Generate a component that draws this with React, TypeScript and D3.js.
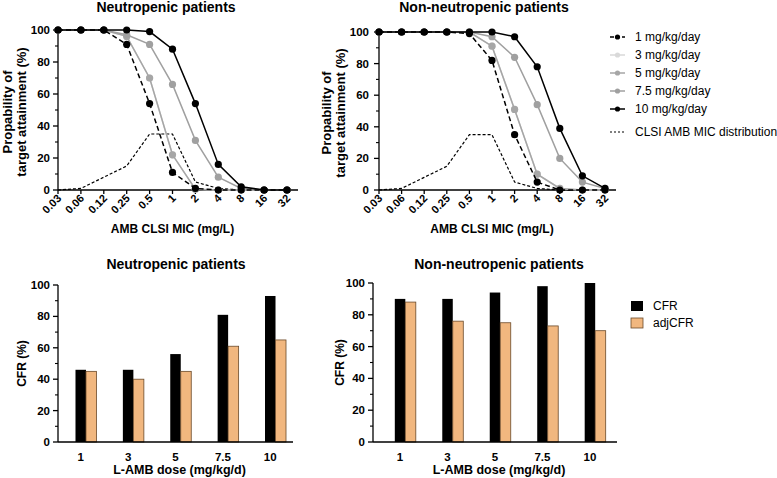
import React from "react";
import * as d3 from "d3";

const micLabels = ["0.03", "0.06", "0.12", "0.25", "0.5", "1", "2", "4", "8", "16", "32"];
const doseNames = ["1 mg/kg/day", "3 mg/kg/day", "5 mg/kg/day", "7.5 mg/kg/day", "10 mg/kg/day"];
const doseColors = ["#000000", "#d9d9d9", "#a6a6a6", "#a0a0a0", "#000000"];
const doseDashes = ["5,3", "", "", "", ""];
const drawOrder = [1, 2, 3, 0, 4];

// Neutropenic probability of target attainment (%)
const neut1 = [100, 100, 100, 91, 54, 11, 1, 0, 0, 0, 0];
const neut3 = [100, 100, 100, 96, 70, 22, 0.5, 0, 0, 0, 0];
const neut5 = [100, 100, 100, 96, 70, 22, 0.5, 0, 0, 0, 0];
const neut75 = [100, 100, 100, 97, 91, 66, 31, 8, 1, 0, 0];
const neut10 = [100, 100, 100, 100, 99, 88, 54, 16, 2, 0, 0];

// Non-neutropenic probability of target attainment (%)
const non1 = [100, 100, 100, 100, 99, 82, 35, 5, 0, 0, 0];
const non3 = [100, 100, 100, 100, 100, 91, 51, 10, 1, 0, 0];
const non5 = [100, 100, 100, 100, 100, 91, 51, 10, 1, 0, 0];
const non75 = [100, 100, 100, 100, 100, 97, 84, 54, 20, 5, 1];
const non10 = [100, 100, 100, 100, 100, 100, 97, 78, 39, 9, 1];

// CLSI AMB MIC distribution (%)
const micDistribution = [0, 1, 8, 15, 35, 35, 5, 1, 0, 0, 0];

// CFR bar charts
const barDoses = ["1", "3", "5", "7.5", "10"];
const neutCFR = [46, 46, 56, 81, 93];
const neutAdjCFR = [45, 40, 45, 61, 65];
const nonCFR = [90, 90, 94, 98, 100];
const nonAdjCFR = [88, 76, 75, 73, 70];

const yMajor = [0, 20, 40, 60, 80, 100];
const yMinor = [10, 30, 50, 70, 90];

const FONT = "'Liberation Sans', Arial, Helvetica, sans-serif";
const ORANGE = "#f1b77f";
const ORANGE_STROKE = "#6b4a2a";

type LineProps = {
  title: string;
  series: number[][];
  x0: number;
  x1: number;
  axisEnd: number;
  yTop: number;
  yBottom: number;
  titleX: number;
  lab1X: number;
  lab2X: number;
  labelGap: number;
};

function YAxis({ y, x, gap }: { y: d3.ScaleLinear<number, number>; x: number; gap: number }) {
  return (
    <g>
      <line x1={x} x2={x} y1={y(0)} y2={y(100)} stroke="#000" strokeWidth={1.3} />
      {yMajor.map((v) => (
        <g key={"M" + v}>
          <line x1={x - 5} x2={x} y1={y(v)} y2={y(v)} stroke="#000" strokeWidth={1.3} />
          <text x={x - gap} y={y(v)} textAnchor="end" dominantBaseline="central" fontFamily={FONT} fontWeight="bold" fontSize={11.5}>
            {v}
          </text>
        </g>
      ))}
      {yMinor.map((v) => (
        <line key={"m" + v} x1={x - 3} x2={x} y1={y(v)} y2={y(v)} stroke="#000" strokeWidth={1.1} />
      ))}
    </g>
  );
}

function LinePanel(p: LineProps) {
  const x = d3.scalePoint<string>().domain(micLabels).range([p.x0, p.x1]);
  const y = d3.scaleLinear().domain([0, 100]).range([p.yBottom, p.yTop]);
  const line = d3
    .line<number>()
    .x((_, j) => x(micLabels[j]) as number)
    .y((d) => y(d));
  const yMid = (p.yTop + p.yBottom) / 2 + 2;
  return (
    <g>
      <text x={p.titleX} y={12} textAnchor="middle" fontFamily={FONT} fontWeight="bold" fontSize={14}>
        {p.title}
      </text>
      <g fontFamily={FONT} fontWeight="bold" fontSize={13}>
        <text transform={`translate(${p.lab1X},${yMid}) rotate(-90)`} textAnchor="middle" dominantBaseline="central">
          Propability of
        </text>
        <text transform={`translate(${p.lab2X},${yMid}) rotate(-90)`} textAnchor="middle" dominantBaseline="central">
          target attainment (%)
        </text>
      </g>
      <YAxis y={y} x={p.x0} gap={p.labelGap} />
      <line x1={p.x0} x2={p.axisEnd} y1={p.yBottom} y2={p.yBottom} stroke="#000" strokeWidth={1.3} />
      {micLabels.map((m) => (
        <g key={m}>
          <line x1={x(m)} x2={x(m)} y1={p.yBottom} y2={p.yBottom + 4} stroke="#000" strokeWidth={1.3} />
          <text
            transform={`translate(${(x(m) as number) + 4},${p.yBottom + 9}) rotate(-45)`}
            textAnchor="end"
            fontFamily={FONT}
            fontWeight="bold"
            fontSize={11}
          >
            {m}
          </text>
        </g>
      ))}
      <text x={(p.x0 + p.x1) / 2} y={233} textAnchor="middle" fontFamily={FONT} fontWeight="bold" fontSize={12}>
        AMB CLSI MIC (mg/L)
      </text>
      <path d={line(micDistribution) || ""} fill="none" stroke="#000" strokeWidth={1.2} strokeDasharray="3,2" />
      {drawOrder.map((i) => (
        <g key={i}>
          <path
            d={line(p.series[i]) || ""}
            fill="none"
            stroke={doseColors[i]}
            strokeWidth={1.5}
            strokeDasharray={doseDashes[i] || undefined}
          />
          {p.series[i].map((v, j) => (
            <circle key={j} cx={x(micLabels[j])} cy={y(v)} r={3.6} fill={doseColors[i]} />
          ))}
        </g>
      ))}
    </g>
  );
}

type BarProps = {
  title: string;
  cfr: number[];
  adj: number[];
  axisStart: number;
  axisEnd: number;
  yTop: number;
  yBottom: number;
  padding: number;
  titleX: number;
  labX: number;
  labelGap: number;
};

function BarPanel(p: BarProps) {
  const x = d3.scalePoint<string>().domain(barDoses).range([p.axisStart, p.axisEnd]).padding(p.padding);
  const y = d3.scaleLinear().domain([0, 100]).range([p.yBottom, p.yTop]);
  const bw = 10.5;
  const yMid = (p.yTop + p.yBottom) / 2;
  return (
    <g>
      <text x={p.titleX} y={269} textAnchor="middle" fontFamily={FONT} fontWeight="bold" fontSize={14}>
        {p.title}
      </text>
      <text
        transform={`translate(${p.labX},${yMid}) rotate(-90)`}
        textAnchor="middle"
        dominantBaseline="central"
        fontFamily={FONT}
        fontWeight="bold"
        fontSize={12}
      >
        CFR (%)
      </text>
      {barDoses.map((d, i) => {
        const cx = x(d) as number;
        return (
          <g key={d}>
            <rect x={cx - bw / 2} y={y(p.cfr[i])} width={bw} height={y(0) - y(p.cfr[i])} fill="#000" />
            <rect
              x={cx + bw / 2}
              y={y(p.adj[i])}
              width={bw}
              height={y(0) - y(p.adj[i])}
              fill={ORANGE}
              stroke={ORANGE_STROKE}
              strokeWidth={0.8}
            />
            <text x={cx} y={p.yBottom + 15} textAnchor="middle" dominantBaseline="central" fontFamily={FONT} fontWeight="bold" fontSize={11.5}>
              {d}
            </text>
          </g>
        );
      })}
      <YAxis y={y} x={p.axisStart} gap={p.labelGap} />
      <line x1={p.axisStart} x2={p.axisEnd} y1={p.yBottom} y2={p.yBottom} stroke="#000" strokeWidth={1.3} />
      <text x={(p.axisStart + p.axisEnd) / 2 + 4} y={474} textAnchor="middle" fontFamily={FONT} fontWeight="bold" fontSize={12.5}>
        L-AMB dose (mg/kg/d)
      </text>
    </g>
  );
}

export default function App() {
  const neutSeries = [neut1, neut3, neut5, neut75, neut10];
  const nonSeries = [non1, non3, non5, non75, non10];
  const legendRows = [37, 55, 73, 91, 109];
  return (
    <svg width={777} height={478} style={{ position: "absolute", left: 0, top: 0, background: "#fff" }}>
      <rect width={777} height={478} fill="#fff" />
      <LinePanel
        title="Neutropenic patients"
        series={neutSeries}
        x0={58}
        x1={287}
        axisEnd={298}
        yTop={30}
        yBottom={190}
        titleX={166}
        lab1X={7}
        lab2X={21}
        labelGap={8}
      />
      <LinePanel
        title="Non-neutropenic patients"
        series={nonSeries}
        x0={379}
        x1={605}
        axisEnd={616}
        yTop={32}
        yBottom={190}
        titleX={484}
        lab1X={326}
        lab2X={340}
        labelGap={10}
      />
      {/* top legend */}
      <g fontFamily={FONT} fontSize={12}>
        {doseNames.map((n, i) => (
          <g key={n}>
            <line
              x1={610}
              x2={625}
              y1={legendRows[i]}
              y2={legendRows[i]}
              stroke={doseColors[i]}
              strokeWidth={1.5}
              strokeDasharray={doseDashes[i] ? "4,2" : undefined}
            />
            <circle cx={617.5} cy={legendRows[i]} r={2.6} fill={doseColors[i]} />
            <text x={635} y={legendRows[i]} dominantBaseline="central" fill="#000">
              {n}
            </text>
          </g>
        ))}
        <line x1={610} x2={625} y1={132} y2={132} stroke="#000" strokeWidth={1.2} strokeDasharray="2,2" />
        <text x={635} y={132} dominantBaseline="central">
          CLSI AMB MIC distribution
        </text>
      </g>
      <BarPanel
        title="Neutropenic patients"
        cfr={neutCFR}
        adj={neutAdjCFR}
        axisStart={58}
        axisEnd={293}
        yTop={285}
        yBottom={442}
        padding={0.48}
        titleX={176}
        labX={22}
        labelGap={8}
      />
      <BarPanel
        title="Non-neutropenic patients"
        cfr={nonCFR}
        adj={nonAdjCFR}
        axisStart={373}
        axisEnd={617}
        yTop={283}
        yBottom={442}
        padding={0.57}
        titleX={499}
        labX={340}
        labelGap={8}
      />
      {/* bottom legend */}
      <g fontFamily={FONT} fontSize={12}>
        <rect x={631} y={301} width={12} height={10} fill="#000" />
        <text x={653} y={306} dominantBaseline="central">CFR</text>
        <rect x={631} y={318} width={12} height={10} fill={ORANGE} stroke={ORANGE_STROKE} strokeWidth={0.8} />
        <text x={653} y={323} dominantBaseline="central">adjCFR</text>
      </g>
    </svg>
  );
}
